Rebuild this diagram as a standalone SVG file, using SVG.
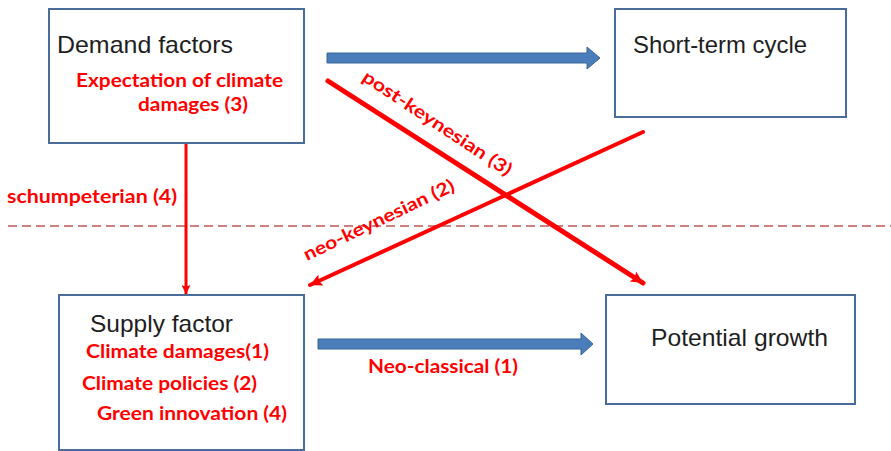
<svg xmlns="http://www.w3.org/2000/svg" width="891" height="451" viewBox="0 0 891 451">
  <style>
    .box { fill: #ffffff; stroke: #4a6c9b; stroke-width: 2; }
    .lbl { font-family: "Liberation Sans", Arial, sans-serif; font-size: 24px; fill: #1e1e1e; }
    .red { font-family: Lato, "Liberation Sans", sans-serif; font-weight: bold; font-size: 18px; fill: #ff0000; }
    .redline { stroke: #ff0000; fill: none; stroke-linecap: round; }
    .blue { fill: #4a7ebb; stroke: #3a6496; stroke-width: 1; }
    .dash { stroke: #c46a6a; stroke-width: 2; stroke-dasharray: 9 5; opacity: 0.85; }
  </style>
  <defs>
    <marker id="ah" markerUnits="userSpaceOnUse" markerWidth="12" markerHeight="12" refX="10" refY="5" orient="auto" viewBox="0 0 10 10">
      <path d="M0,0 L10,5 L0,10 L2,5 z" fill="#ff0000"/>
    </marker>
    <marker id="ahs" markerUnits="userSpaceOnUse" markerWidth="9" markerHeight="9" refX="10" refY="5" orient="auto" viewBox="0 0 10 10">
      <path d="M0,0 L10,5 L0,10 L2,5 z" fill="#ff0000"/>
    </marker>
  </defs>

  <g id="connectors">
    <line class="dash" x1="8" y1="226" x2="891" y2="226"/>
    <polygon class="blue" points="327,53 587,53 587,47 600,58 587,69 587,63 327,63"/>
    <polygon class="blue" points="318,339 581,339 581,333 593,344 581,355 581,349 318,349"/>
    <line class="redline" x1="186" y1="144" x2="186" y2="294" stroke-width="3" marker-end="url(#ahs)"/>
    <line class="redline" x1="328" y1="81" x2="643" y2="283" stroke-width="5" marker-end="url(#ah)"/>
    <line class="redline" x1="643" y1="132" x2="310" y2="285" stroke-width="4" marker-end="url(#ah)"/>
    <text class="red" x="7" y="203" textLength="170" lengthAdjust="spacingAndGlyphs">schumpeterian (4)</text>
    <text class="red" transform="translate(361,80) rotate(33.5)" textLength="175" lengthAdjust="spacingAndGlyphs">post-keynesian (3)</text>
    <text class="red" transform="translate(307,261) rotate(-25.5)" textLength="165" lengthAdjust="spacingAndGlyphs">neo-keynesian (2)</text>
    <text class="red" x="368" y="373" textLength="150" lengthAdjust="spacingAndGlyphs">Neo-classical (1)</text>
  </g>

  <g id="demand">
    <rect class="box" x="49" y="9" width="255" height="134"/>
    <text class="lbl" x="57" y="53" textLength="176" lengthAdjust="spacingAndGlyphs">Demand factors</text>
    <text class="red" x="76" y="87" textLength="207" lengthAdjust="spacingAndGlyphs">Expectation of climate</text>
    <text class="red" x="138" y="111" textLength="110" lengthAdjust="spacingAndGlyphs">damages (3)</text>
  </g>

  <g id="shortterm">
    <rect class="box" x="615" y="9" width="231" height="108"/>
    <text class="lbl" x="633" y="53" textLength="174" lengthAdjust="spacingAndGlyphs">Short-term cycle</text>
  </g>

  <g id="supply">
    <rect class="box" x="59" y="295" width="245" height="155"/>
    <text class="lbl" x="90" y="332" textLength="143" lengthAdjust="spacingAndGlyphs">Supply factor</text>
    <text class="red" x="86" y="358" textLength="183" lengthAdjust="spacingAndGlyphs">Climate damages(1)</text>
    <text class="red" x="82" y="390" textLength="175" lengthAdjust="spacingAndGlyphs">Climate policies (2)</text>
    <text class="red" x="97" y="420" textLength="190" lengthAdjust="spacingAndGlyphs">Green innovation (4)</text>
  </g>

  <g id="potential">
    <rect class="box" x="606" y="295" width="249" height="109"/>
    <text class="lbl" x="651" y="346" textLength="177" lengthAdjust="spacingAndGlyphs">Potential growth</text>
  </g>
</svg>
